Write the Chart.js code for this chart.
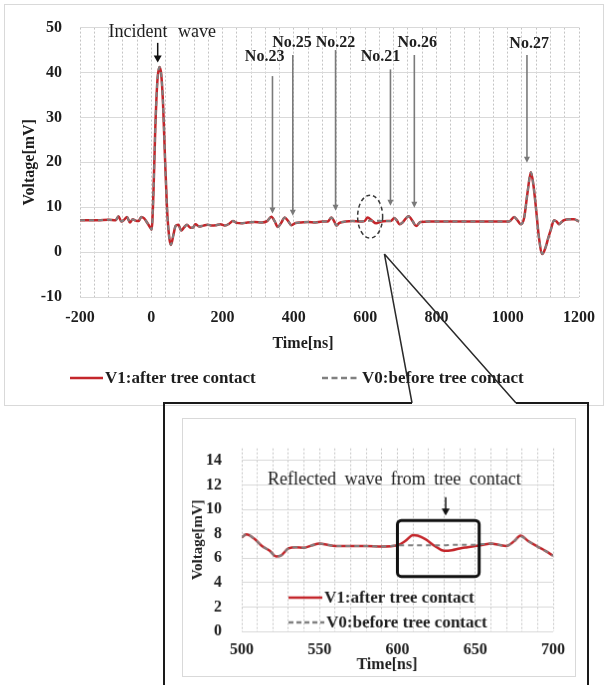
<!DOCTYPE html>
<html>
<head>
<meta charset="utf-8">
<script src="https://cdn.jsdelivr.net/npm/chart.js@4.4.1/dist/chart.umd.min.js"></script>
<style>
  html, body { margin: 0; padding: 0; background: #fff; }
  body { width: 606px; height: 685px; position: relative; overflow: hidden; }
  #mainFrame { position: absolute; left: 4px; top: 4px; width: 600px; height: 402px; border: 1px solid #d9d9d9; box-sizing: border-box; }
  #mainChart { position: absolute; left: 0; top: 0; }
  #insetChart { position: absolute; left: 182px; top: 418px; border: 1px solid #d9d9d9; }
  #callout { position: absolute; left: 0; top: 0; pointer-events: none; }
</style>
</head>
<body>
<div id="mainFrame"></div>
<canvas id="mainChart" width="606" height="410"></canvas>
<canvas id="insetChart" width="394" height="259"></canvas>
<canvas id="callout" width="606" height="685"></canvas>
<script>
/**
 * Tree contact reflection chart
 * Main waveform (-200..1200 ns) plus a zoomed inset (500..700 ns)
 */

// ---- data: main waveform ----
const mainTime = [
  -200, -150, -120, -100, -92, -84, -76, -68, -60, -52,
  -44, -36, -28, -20, -12, -4, 1, 6, 11, 17,
  23, 28, 33, 38, 44, 50, 55, 62, 68, 76,
  84, 92, 100, 108, 116, 124, 134, 146, 158, 170,
  182, 194, 206, 218, 229, 240, 252, 270, 290, 310,
  325, 337, 346, 355, 365, 374, 384, 393, 405, 420,
  440, 460, 480, 495, 505, 513, 519, 528, 545, 565,
  585, 598, 607, 618, 631, 645, 660, 672, 682, 690,
  696, 705, 722, 733, 743, 755, 780, 820, 860, 900,
  940, 980, 1004, 1018, 1028, 1037, 1046, 1056, 1065, 1072,
  1079, 1088, 1097, 1106, 1114, 1121, 1130, 1137, 1144, 1151,
  1158, 1172, 1186, 1200,
];

const mainV1 = [
  7.1, 7.1, 7.2, 7.1, 8.0, 6.8, 7.2, 7.8, 6.6, 7.3,
  7.0, 6.9, 7.8, 7.5, 6.6, 5.6, 5.0, 13.0, 27.0, 38.0,
  41.2, 39.5, 33.0, 22.0, 10.0, 3.5, 1.6, 3.8, 5.8, 6.1,
  4.8, 5.5, 6.1, 5.5, 5.4, 6.2, 5.7, 5.9, 6.1, 5.9,
  6.0, 6.2, 5.9, 6.3, 6.9, 6.5, 6.4, 6.6, 6.7, 6.6,
  6.9, 7.9, 6.9, 5.6, 6.6, 7.7, 6.9, 6.0, 6.5, 6.6,
  6.7, 6.6, 6.8, 6.8, 7.7, 6.9, 5.9, 6.5, 6.8, 6.9,
  6.8, 6.9, 7.7, 7.1, 6.4, 6.8, 6.9, 6.9, 7.6, 6.9,
  6.2, 6.6, 8.0, 6.9, 5.8, 6.7, 6.8, 6.8, 6.8, 6.8,
  6.8, 6.8, 6.8, 7.8, 7.0, 6.2, 7.6, 13.5, 17.8, 15.0,
  10.0, 3.0, -0.4, 1.0, 3.2, 5.0, 7.1, 6.8, 6.2, 6.7,
  7.1, 7.3, 7.3, 6.8,
];

const mainV0 = [
  7.1, 7.1, 7.2, 7.1, 8.0, 6.8, 7.2, 7.8, 6.6, 7.3,
  7.0, 6.9, 7.8, 7.5, 6.6, 5.6, 5.0, 13.0, 27.0, 38.0,
  41.2, 39.5, 33.0, 22.0, 10.0, 3.5, 1.6, 3.8, 5.8, 6.1,
  4.8, 5.5, 6.1, 5.5, 5.4, 6.2, 5.7, 5.9, 6.1, 5.9,
  6.0, 6.2, 5.9, 6.3, 6.9, 6.5, 6.4, 6.6, 6.7, 6.6,
  6.9, 7.9, 6.9, 5.6, 6.6, 7.7, 6.9, 6.0, 6.5, 6.6,
  6.7, 6.6, 6.8, 6.8, 7.7, 6.9, 5.9, 6.5, 6.8, 6.9,
  6.8, 6.9, 7.0, 7.0, 7.0, 6.95, 6.9, 6.9, 7.6, 6.9,
  6.2, 6.6, 8.0, 6.9, 5.8, 6.7, 6.8, 6.8, 6.8, 6.8,
  6.8, 6.8, 6.8, 7.8, 7.0, 6.2, 7.6, 13.5, 17.8, 15.0,
  10.0, 3.0, -0.4, 1.0, 3.2, 5.0, 7.1, 6.8, 6.2, 6.7,
  7.1, 7.3, 7.3, 6.8,
];

// ---- data: zoomed inset ----
const insetTime = [
  500, 503, 508, 513, 518, 522, 525, 530, 535, 540,
  545, 550, 555, 560, 570, 580, 590, 600, 605, 610,
  613, 618, 624, 630, 635, 640, 645, 650, 655, 660,
  665, 670, 675, 679, 684, 690, 695, 700,
];

const insetV1 = [
  7.7, 7.95, 7.6, 7.0, 6.6, 6.15, 6.2, 6.8, 6.9, 6.85,
  7.05, 7.2, 7.1, 7.0, 7.0, 7.0, 6.95, 7.05, 7.4, 7.9,
  7.85, 7.55, 7.0, 6.6, 6.65, 6.8, 6.9, 7.0, 7.1, 7.2,
  7.1, 7.0, 7.4, 7.85, 7.4, 6.95, 6.6, 6.2,
];

const insetV0 = [
  7.7, 7.95, 7.6, 7.0, 6.6, 6.15, 6.2, 6.8, 6.9, 6.85,
  7.05, 7.2, 7.1, 7.0, 7.0, 7.0, 6.95, 7.05, 7.05, 7.05,
  7.05, 7.05, 7.05, 7.05, 7.1, 7.1, 7.1, 7.1, 7.15, 7.2,
  7.1, 7.0, 7.4, 7.8, 7.4, 6.95, 6.6, 6.2,
];

// ---- tick labels ----
const mainTimeLabels = [-200, 0, 200, 400, 600, 800, 1000, 1200];
const insetTimeLabels = [500, 550, 600, 650, 700];
const insetVoltTicks = [0, 2, 4, 6, 8, 10, 12, 14];

const seriesLabels = ["V1:after tree contact", "V0:before tree contact"];

// ---- annotations (data coordinates) ----
const probeNotes = [
  { text: "No.23", tx: 318, ty: 43.5, at: 340, from: 39.2, to: 8.6 },
  { text: "No.25", tx: 395, ty: 46.7, at: 397, from: 43.9, to: 8.1 },
  { text: "No.22", tx: 517, ty: 46.7, at: 517, from: 45.0, to: 9.2 },
  { text: "No.21", tx: 643, ty: 43.5, at: 671, from: 40.7, to: 10.3 },
  { text: "No.26", tx: 746, ty: 46.5, at: 738, from: 43.9, to: 9.9 },
  { text: "No.27", tx: 1060, ty: 46.4, at: 1054, from: 43.9, to: 19.9 },
];

const SERIF = '"Liberation Serif", "Times New Roman", serif';
const RED = "#c4262b";
const GRAY = "#808080";
const INK = "#1e1e1e";

const toPoints = (xs, ys) => xs.map((x, i) => ({ x, y: ys[i] }));

/**
 * Draws a vertical arrow pointing down
 */
const drawArrow = (ctx, x, yTop, yTip, color, lineWidth, headLen, headWidth) => {
  ctx.strokeStyle = color;
  ctx.fillStyle = color;
  ctx.lineWidth = lineWidth;
  ctx.setLineDash([]);
  ctx.beginPath();
  ctx.moveTo(x, yTop);
  ctx.lineTo(x, yTip - headLen + 1);
  ctx.stroke();
  ctx.beginPath();
  ctx.moveTo(x - headWidth / 2, yTip - headLen);
  ctx.lineTo(x + headWidth / 2, yTip - headLen);
  ctx.lineTo(x, yTip);
  ctx.closePath();
  ctx.fill();
};

const drawText = (ctx, text, x, y, font, spacing) => {
  ctx.font = font;
  ctx.fillStyle = INK;
  ctx.textAlign = "center";
  ctx.textBaseline = "middle";
  if ("wordSpacing" in ctx) ctx.wordSpacing = spacing || "0px";
  ctx.fillText(text, x, y);
  if ("wordSpacing" in ctx) ctx.wordSpacing = "0px";
};

/**
 * Draws a legend row: sample line then label
 */
const drawLegendItem = (ctx, x, y, len, dash, color, label, font) => {
  ctx.strokeStyle = color;
  ctx.lineWidth = 2.5;
  ctx.setLineDash(dash);
  ctx.beginPath();
  ctx.moveTo(x, y);
  ctx.lineTo(x + len, y);
  ctx.stroke();
  ctx.setLineDash([]);
  ctx.font = font;
  ctx.fillStyle = INK;
  ctx.textAlign = "left";
  ctx.textBaseline = "middle";
  ctx.fillText(label, x + len + 2, y + 1);
};

const mainNotesPlugin = {
  id: "mainNotes",
  afterDraw(chart) {
    const { ctx, scales: { x, y } } = chart;
    ctx.save();

    // incident wave label + arrow
    drawText(ctx, "Incident wave", x.getPixelForValue(31), y.getPixelForValue(49), `18px ${SERIF}`, "6px");
    drawArrow(ctx, x.getPixelForValue(18), y.getPixelForValue(46.6), y.getPixelForValue(42.2), "#111", 1.5, 7, 8);

    // probe labels
    probeNotes.forEach((n) => {
      drawText(ctx, n.text, x.getPixelForValue(n.tx), y.getPixelForValue(n.ty), `bold 16px ${SERIF}`);
      drawArrow(ctx, x.getPixelForValue(n.at), y.getPixelForValue(n.from), y.getPixelForValue(n.to), "#7a7a7a", 1.6, 6, 6);
    });

    // dashed ellipse around the reflection
    ctx.strokeStyle = "#3a3a3a";
    ctx.lineWidth = 1.5;
    ctx.setLineDash([4, 3]);
    ctx.beginPath();
    ctx.ellipse(x.getPixelForValue(614), y.getPixelForValue(7.9), 12.5, 21.5, 0, 0, Math.PI * 2);
    ctx.stroke();
    ctx.setLineDash([]);

    // x title, centred on the whole chart like the source
    drawText(ctx, "Time[ns]", 303, 344, `bold 16px ${SERIF}`);

    // legend
    drawLegendItem(ctx, 70, 378, 33, [], RED, seriesLabels[0], `bold 17px ${SERIF}`);
    drawLegendItem(ctx, 322, 378, 38, [6, 3.5], GRAY, seriesLabels[1], `bold 17px ${SERIF}`);

    ctx.restore();
  },
};

const insetNotesPlugin = {
  id: "insetNotes",
  afterDraw(chart) {
    const { ctx, scales: { x, y } } = chart;
    ctx.save();

    drawText(ctx, "Reflected wave from tree contact", x.getPixelForValue(598), y.getPixelForValue(12.4), `18px ${SERIF}`, "4px");
    drawArrow(ctx, x.getPixelForValue(631), y.getPixelForValue(11.0), y.getPixelForValue(9.5), "#111", 1.5, 7, 8);

    // highlight box
    const left = x.getPixelForValue(600);
    const right = x.getPixelForValue(652.5);
    const top = y.getPixelForValue(9.1);
    const bottom = y.getPixelForValue(4.5);
    ctx.strokeStyle = "#111";
    ctx.lineWidth = 3;
    ctx.beginPath();
    if (ctx.roundRect) ctx.roundRect(left, top, right - left, bottom - top, 4);
    else ctx.rect(left, top, right - left, bottom - top);
    ctx.stroke();

    drawText(ctx, "Time[ns]", 205, 248, `bold 16px ${SERIF}`);

    drawLegendItem(ctx, 106, 180, 34, [], RED, seriesLabels[0], `bold 17px ${SERIF}`);
    drawLegendItem(ctx, 106, 205, 36, [5, 3], GRAY, seriesLabels[1], `bold 17px ${SERIF}`);

    ctx.restore();
  },
};

const tickFont = { family: SERIF, size: 16, weight: "bold" };

const buildDatasets = (time, v1, v0, width) => [
  {
    label: seriesLabels[0],
    data: toPoints(time, v1),
    borderColor: RED,
    borderWidth: width,
    pointRadius: 0,
    cubicInterpolationMode: "monotone",
    order: 2,
  },
  {
    label: seriesLabels[1],
    data: toPoints(time, v0),
    borderColor: GRAY,
    borderWidth: width - 0.5,
    borderDash: [5, 4],
    pointRadius: 0,
    cubicInterpolationMode: "monotone",
    order: 1,
  },
];

const baseOptions = {
  responsive: false,
  animation: false,
  devicePixelRatio: 1,
  plugins: { legend: { display: false }, tooltip: { enabled: false } },
};

const labelEvery = (labels) => (v) => (labels.includes(Math.round(v)) ? String(Math.round(v)) : "");

const mainChart = new Chart(document.getElementById("mainChart"), {
  type: "line",
  data: { datasets: buildDatasets(mainTime, mainV1, mainV0, 2.5) },
  options: {
    ...baseOptions,
    layout: { padding: { left: 0, right: 26, top: 16, bottom: 0 } },
    scales: {
      x: {
        type: "linear",
        min: -200,
        max: 1200,
        afterFit: (scale) => { scale.height = 113; },
        ticks: {
          stepSize: 40,
          autoSkip: false,
          maxRotation: 0,
          padding: 11,
          color: INK,
          font: tickFont,
          callback: labelEvery(mainTimeLabels),
        },
        grid: { color: "#c4c4c4", drawTicks: false },
        border: { display: false, dash: [2, 2] },
      },
      y: {
        min: -10,
        max: 50,
        afterFit: (scale) => { scale.width = 80; },
        ticks: { stepSize: 10, padding: 18, color: INK, font: tickFont },
        grid: { color: "#d9d9d9", drawTicks: false },
        border: { display: false },
        title: {
          display: true,
          text: "Voltage[mV]",
          color: INK,
          font: tickFont,
          padding: { top: 20, bottom: 0 },
        },
      },
    },
  },
  plugins: [mainNotesPlugin],
});

new Chart(document.getElementById("insetChart"), {
  type: "line",
  data: { datasets: buildDatasets(insetTime, insetV1, insetV0, 2.5) },
  options: {
    ...baseOptions,
    layout: { padding: { left: 0, right: 22, top: 23, bottom: 0 } },
    scales: {
      x: {
        type: "linear",
        min: 500,
        max: 700,
        afterFit: (scale) => { scale.height = 45; },
        ticks: {
          stepSize: 10,
          autoSkip: false,
          maxRotation: 0,
          padding: 9,
          color: INK,
          font: tickFont,
          callback: labelEvery(insetTimeLabels),
        },
        grid: { color: "#c4c4c4", drawTicks: false },
        border: { display: false, dash: [2, 2] },
      },
      y: {
        min: 0,
        max: 15,
        afterBuildTicks: (scale) => {
          scale.ticks = insetVoltTicks.map((value) => ({ value }));
        },
        afterFit: (scale) => { scale.width = 59; },
        ticks: { padding: 20, color: INK, font: tickFont },
        grid: { color: "#d9d9d9", drawTicks: false },
        border: { display: false },
        title: {
          display: true,
          text: "Voltage[mV]",
          color: INK,
          font: { family: SERIF, size: 15, weight: "bold" },
          padding: { top: 6, bottom: 0 },
        },
      },
    },
  },
  plugins: [insetNotesPlugin],
});

/**
 * Callout: lines from the main chart down to the inset box
 */
const drawCallout = () => {
  const ctx = document.getElementById("callout").getContext("2d");
  const { x, y } = mainChart.scales;
  const ax = x.getPixelForValue(654);
  const ay = y.getPixelForValue(-0.4);

  ctx.strokeStyle = "#2a2a2a";
  ctx.lineWidth = 1.5;
  ctx.beginPath();
  ctx.moveTo(ax, ay);
  ctx.lineTo(412, 403);
  ctx.moveTo(ax, ay);
  ctx.lineTo(516, 403);
  ctx.stroke();

  ctx.strokeStyle = "#1a1a1a";
  ctx.lineWidth = 2;
  ctx.beginPath();
  ctx.moveTo(412, 403);
  ctx.lineTo(164, 403);
  ctx.lineTo(164, 700);
  ctx.moveTo(516, 403);
  ctx.lineTo(588, 403);
  ctx.lineTo(588, 700);
  ctx.stroke();
};

drawCallout();
</script>
</body>
</html>
